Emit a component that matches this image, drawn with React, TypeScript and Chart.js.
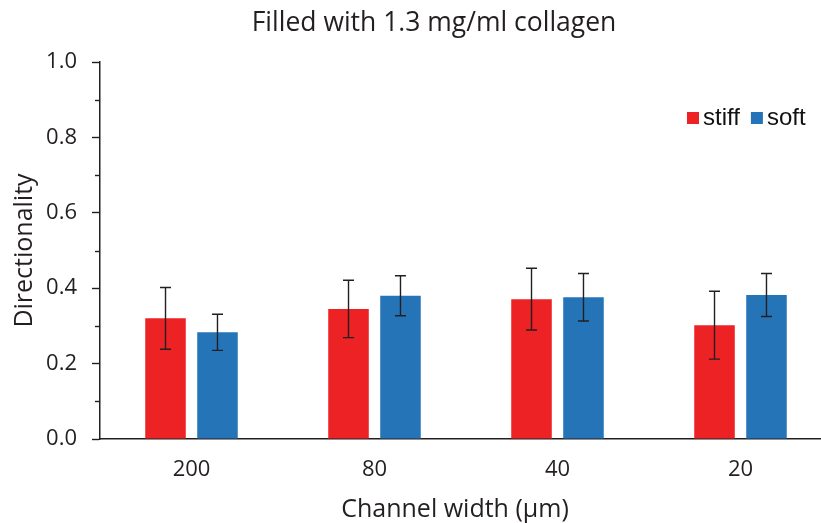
import React, { useEffect, useRef } from 'react';
import { Chart, registerables } from 'chart.js';

Chart.register(...registerables);

const titleText = 'Filled with 1.3 mg/ml collagen';
const xTitle = 'Channel width (µm)';
const yTitle = 'Directionality';
const categories = ['200', '80', '40', '20'];
const seriesNames = ['stiff', 'soft'];
const stiffValues = [0.32, 0.345, 0.371, 0.302];
const stiffErrors = [0.082, 0.076, 0.082, 0.09];
const softValues = [0.283, 0.38, 0.376, 0.382];
const softErrors = [0.048, 0.053, 0.063, 0.057];
const yTickLabels = ['0.0', '0.2', '0.4', '0.6', '0.8', '1.0'];
const yMinorTicks = [0.1, 0.3, 0.5, 0.7, 0.9];

const RED = '#ED2224';
const BLUE = '#2674B8';
const INK = '#231F20';
const FONT = "'Open Sans', sans-serif";

const errorBarPlugin = {
  id: 'errorBars',
  afterDatasetsDraw(chart: any) {
    const ctx = chart.ctx;
    const yScale = chart.scales.y;
    ctx.save();
    ctx.strokeStyle = INK;
    ctx.lineWidth = 1.4;
    chart.data.datasets.forEach((ds: any, d: number) => {
      const meta = chart.getDatasetMeta(d);
      meta.data.forEach((bar: any, i: number) => {
        const v = ds.data[i];
        const e = ds.errors[i];
        const top = yScale.getPixelForValue(v + e);
        const bot = yScale.getPixelForValue(v - e);
        const x = bar.x;
        const cap = 5.5;
        ctx.beginPath();
        ctx.moveTo(x, top);
        ctx.lineTo(x, bot);
        ctx.moveTo(x - cap, top);
        ctx.lineTo(x + cap, top);
        ctx.moveTo(x - cap, bot);
        ctx.lineTo(x + cap, bot);
        ctx.stroke();
      });
    });
    ctx.restore();
  },
};

const minorTickPlugin = {
  id: 'minorTicks',
  afterDraw(chart: any) {
    const ctx = chart.ctx;
    const yScale = chart.scales.y;
    const left = chart.chartArea.left;
    ctx.save();
    ctx.strokeStyle = INK;
    ctx.lineWidth = 1.4;
    yMinorTicks.forEach((v) => {
      const y = Math.round(yScale.getPixelForValue(v)) + 0.5;
      ctx.beginPath();
      ctx.moveTo(left - 5, y);
      ctx.lineTo(left, y);
      ctx.stroke();
    });
    ctx.restore();
  },
};

const textPlugin = {
  id: 'texts',
  afterDraw(chart: any) {
    const ctx = chart.ctx;
    const area = chart.chartArea;
    ctx.save();
    ctx.fillStyle = INK;
    ctx.textAlign = 'center';
    ctx.textBaseline = 'alphabetic';
    ctx.font = `26.5px ${FONT}`;
    ctx.fillText(titleText, chart.width / 2, 23);
    ctx.font = `25px ${FONT}`;
    ctx.fillText(xTitle, (area.left + area.right) / 2 - 11, chart.height - 6);
    ctx.restore();
  },
};

const legendPlugin = {
  id: 'customLegend',
  afterDraw(chart: any) {
    const ctx = chart.ctx;
    const area = chart.chartArea;
    ctx.save();
    ctx.font = "24px 'Liberation Sans', Arial, sans-serif";
    ctx.textBaseline = 'alphabetic';
    ctx.textAlign = 'left';
    let x = area.right - 145;
    const baseline = area.top + 62.5;
    const sq = 12;
    chart.data.datasets.forEach((ds: any) => {
      ctx.fillStyle = ds.backgroundColor;
      ctx.fillRect(x, baseline - sq - 0.5, sq, sq);
      x += sq + 4;
      ctx.fillStyle = '#111';
      ctx.fillText(ds.label, x, baseline);
      x += ctx.measureText(ds.label).width + 11;
    });
    ctx.restore();
  },
};

export default function App() {
  const ref = useRef<HTMLCanvasElement>(null);

  useEffect(() => {
    const canvas = ref.current;
    if (!canvas) return;
    const chart = new Chart(canvas, {
      type: 'bar',
      data: {
        labels: categories,
        datasets: [
          {
            label: seriesNames[0],
            data: stiffValues,
            errors: stiffErrors,
            backgroundColor: RED,
            borderWidth: 0,
          } as any,
          {
            label: seriesNames[1],
            data: softValues,
            errors: softErrors,
            backgroundColor: BLUE,
            borderWidth: 0,
          } as any,
        ],
      },
      options: {
        responsive: false,
        animation: false,
        events: [],
        categoryPercentage: 0.568,
        barPercentage: 0.78,
        layout: { padding: { left: 0, right: 28, top: 54, bottom: 0 } },
        plugins: {
          legend: { display: false },
          tooltip: { enabled: false },
          title: { display: false },
        },
        scales: {
          x: {
            type: 'category',
            offset: true,
            grid: { display: false, drawTicks: false },
            border: { display: true, color: INK, width: 1.5 },
            ticks: {
              color: INK,
              font: { family: FONT, size: 22 },
              padding: 18,
            },
            afterFit: (s: any) => {
              s.height = 84;
            },
          },
          y: {
            min: 0,
            max: 1,
            ticks: {
              stepSize: 0.2,
              color: INK,
              font: { family: FONT, size: 22 },
              padding: 15,
              callback: (_v: any, i: number) => yTickLabels[i],
            },
            grid: {
              display: true,
              drawOnChartArea: false,
              drawTicks: true,
              tickLength: 8,
              tickColor: INK,
              tickWidth: 1.4,
            },
            border: { display: true, color: INK, width: 1.5 },
            title: {
              display: true,
              text: yTitle,
              color: INK,
              font: { family: FONT, size: 25 },
              padding: { top: 2, bottom: 0 },
            },
            afterFit: (s: any) => {
              s.width = 92;
            },
          },
        },
      } as any,
      plugins: [errorBarPlugin, minorTickPlugin, textPlugin, legendPlugin],
    });
    return () => chart.destroy();
  }, []);

  return (
    <div
      style={{
        position: 'fixed',
        left: 0,
        top: 0,
        width: 821,
        height: 523,
        overflow: 'hidden',
        background: '#fff',
      }}
    >
      <canvas
        ref={ref}
        width={852}
        height={515}
        style={{ width: 852, height: 515, display: 'block', marginLeft: 8, marginTop: 8 }}
      />
    </div>
  );
}
